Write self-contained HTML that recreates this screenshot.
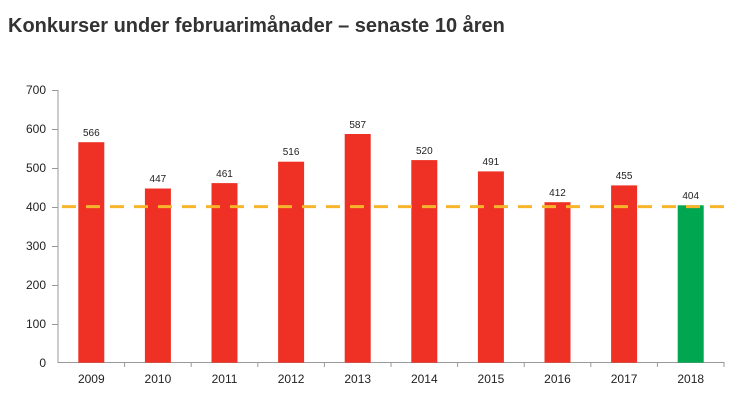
<!DOCTYPE html><html><head><style>body{margin:0;background:#fff}</style></head><body>
<svg width="746" height="404" xmlns="http://www.w3.org/2000/svg" font-family="Liberation Sans, sans-serif">
<text x="8" y="32" font-size="20" font-weight="bold" fill="#333">Konkurser under februarimånader – senaste 10 åren</text>
<g font-size="12" fill="#222" text-anchor="end">
<text x="46" y="367">0</text><text x="46" y="328">100</text><text x="46" y="289">200</text><text x="46" y="250">300</text><text x="46" y="211">400</text><text x="46" y="172">500</text><text x="46" y="133">600</text><text x="46" y="94">700</text></g>
<g stroke="#999" stroke-width="1">
<line x1="58" y1="90" x2="58" y2="363"/><line x1="58" y1="362.5" x2="724" y2="362.5"/>
<line x1="52" y1="90.5" x2="58" y2="90.5"/><line x1="52" y1="129.5" x2="58" y2="129.5"/><line x1="52" y1="168.5" x2="58" y2="168.5"/><line x1="52" y1="207.5" x2="58" y2="207.5"/><line x1="52" y1="246.5" x2="58" y2="246.5"/><line x1="52" y1="285.5" x2="58" y2="285.5"/><line x1="52" y1="324.5" x2="58" y2="324.5"/>
<line x1="124.6" y1="362" x2="124.6" y2="367"/><line x1="191.2" y1="362" x2="191.2" y2="367"/><line x1="257.8" y1="362" x2="257.8" y2="367"/><line x1="324.4" y1="362" x2="324.4" y2="367"/><line x1="391" y1="362" x2="391" y2="367"/><line x1="457.6" y1="362" x2="457.6" y2="367"/><line x1="524.2" y1="362" x2="524.2" y2="367"/><line x1="590.8" y1="362" x2="590.8" y2="367"/><line x1="657.4" y1="362" x2="657.4" y2="367"/><line x1="724" y1="362" x2="724" y2="367"/>
</g>
<g fill="#ee3124">
<rect x="78.3" y="142.2" width="26" height="220.5"/>
<rect x="144.9" y="188.5" width="26" height="174.2"/>
<rect x="211.5" y="183.1" width="26" height="179.6"/>
<rect x="278.1" y="161.7" width="26" height="201"/>
<rect x="344.7" y="134" width="26" height="228.7"/>
<rect x="411.3" y="160.1" width="26" height="202.6"/>
<rect x="477.9" y="171.4" width="26" height="191.3"/>
<rect x="544.5" y="202.2" width="26" height="160.5"/>
<rect x="611.1" y="185.4" width="26" height="177.3"/>
<rect x="677.7" y="205.3" width="26" height="157.4" fill="#00a650"/>
</g>
<line x1="62" y1="206.6" x2="724" y2="206.6" stroke="#f7b52c" stroke-width="3" stroke-dasharray="14,10"/>
<g font-size="10" text-anchor="middle" fill="#222">
<text x="91.3" y="136">566</text><text x="157.9" y="182">447</text><text x="224.5" y="177">461</text><text x="291.1" y="155">516</text><text x="357.7" y="128">587</text><text x="424.3" y="154">520</text><text x="490.9" y="165">491</text><text x="557.5" y="196">412</text><text x="624.1" y="179">455</text><text x="690.7" y="199">404</text>
</g>
<g font-size="12" text-anchor="middle" fill="#222">
<text x="91.3" y="383">2009</text><text x="157.9" y="383">2010</text><text x="224.5" y="383">2011</text><text x="291.1" y="383">2012</text><text x="357.7" y="383">2013</text><text x="424.3" y="383">2014</text><text x="490.9" y="383">2015</text><text x="557.5" y="383">2016</text><text x="624.1" y="383">2017</text><text x="690.7" y="383">2018</text>
</g>
</svg></body></html>
